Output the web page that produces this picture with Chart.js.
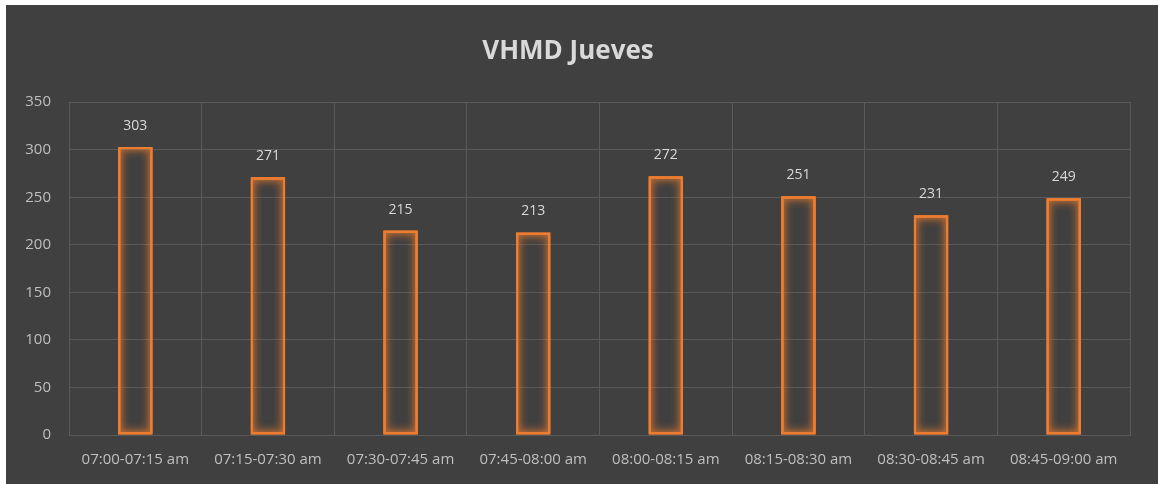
<!DOCTYPE html>
<html>
<head>
<meta charset="utf-8">
<script src="https://cdn.jsdelivr.net/npm/chart.js@4"></script>
<style>
    html, body { margin: 0; padding: 0; background: #ffffff; }
    #wrap { position: absolute; left: 6px; top: 5px; width: 1152px; height: 479px; background: #404040; }
</style>
</head>
<body>
<div id="wrap"><canvas id="vhmdChart"></canvas></div>
<script>
// Intervalos de 15 minutos y volumen contado en cada uno
const intervalos = ['07:00-07:15 am', '07:15-07:30 am', '07:30-07:45 am', '07:45-08:00 am',
                    '08:00-08:15 am', '08:15-08:30 am', '08:30-08:45 am', '08:45-09:00 am'];
const volumen = [303, 271, 215, 213, 272, 251, 231, 249];
const ticksY = [0, 50, 100, 150, 200, 250, 300, 350];

const naranja = '#ED7D31';
const fuente = "'Open Sans', 'Liberation Sans', sans-serif";

// Brillo naranja alrededor de las barras (se repinta para reforzar el halo)
const brilloBarras = {
    id: 'brilloBarras',
    beforeDatasetsDraw(chart) {
        const ctx = chart.ctx;
        ctx.save();
        ctx.shadowColor = 'rgba(237, 125, 49, 0.9)';
        ctx.shadowBlur = 10;
    },
    afterDatasetsDraw(chart) {
        const ctx = chart.ctx;
        chart.getDatasetMeta(0).data.forEach(bar => bar.draw(ctx));
        ctx.shadowBlur = 5;
        chart.getDatasetMeta(0).data.forEach(bar => bar.draw(ctx));
        ctx.restore();
    }
};

// Etiquetas con el valor encima de cada barra
const etiquetasValor = {
    id: 'etiquetasValor',
    afterDatasetsDraw(chart) {
        const ctx = chart.ctx;
        const meta = chart.getDatasetMeta(0);
        ctx.save();
        ctx.fillStyle = '#d9d9d9';
        ctx.font = '14px ' + fuente;
        ctx.textAlign = 'center';
        ctx.textBaseline = 'middle';
        meta.data.forEach((bar, i) => {
            ctx.fillText(chart.data.datasets[0].data[i], bar.x, bar.y - 21);
        });
        ctx.restore();
    }
};

const ctx = document.getElementById('vhmdChart').getContext('2d');
new Chart(ctx, {
    type: 'bar',
    data: {
        labels: intervalos,
        datasets: [{
            label: 'VHMD',
            data: volumen,
            backgroundColor: 'rgba(0, 0, 0, 0)',
            borderColor: naranja,
            borderWidth: 2.2,
            borderSkipped: false,
            categoryPercentage: 1,
            barPercentage: 0.26
        }]
    },
    options: {
        responsive: true,
        maintainAspectRatio: false,
        animation: false,
        layout: { padding: { left: 0, right: 28, top: 0, bottom: 0 } },
        plugins: {
            legend: { display: false },
            tooltip: { enabled: false },
            title: {
                display: true,
                text: 'VHMD Jueves',
                color: '#d9d9d9',
                font: { family: fuente, size: 26, weight: 'bold' },
                padding: { top: 31, bottom: 35 }
            }
        },
        scales: {
            x: {
                grid: { color: '#5a5a5a', drawTicks: false, offset: true },
                border: { color: '#5a5a5a' },
                ticks: { color: '#bfbfbf', font: { family: fuente, size: 15 }, padding: 16, maxRotation: 0 },
                afterFit: (s) => { s.height = 49; }
            },
            y: {
                min: 0,
                max: 350,
                afterBuildTicks: (s) => { s.ticks = ticksY.map(v => ({ value: v })); },
                grid: { color: '#5a5a5a', drawTicks: false },
                border: { color: '#5a5a5a' },
                ticks: { color: '#bfbfbf', font: { family: fuente, size: 15 }, padding: 18 },
                afterFit: (s) => { s.width = 63; }
            }
        }
    },
    plugins: [brilloBarras, etiquetasValor]
});
</script>
</body>
</html>
